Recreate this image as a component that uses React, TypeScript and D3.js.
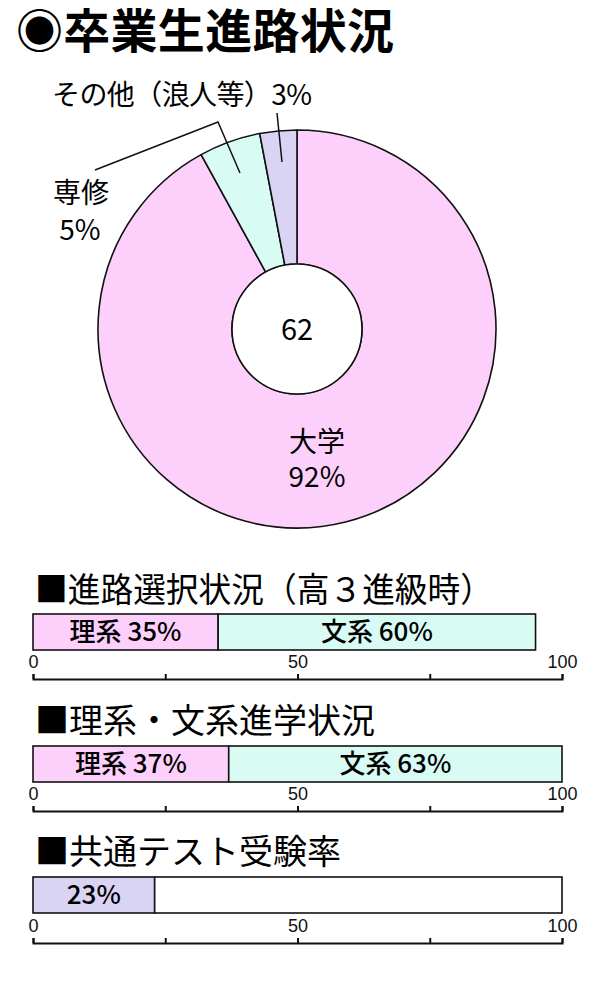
import React, { useEffect, useRef } from "react";
import * as d3 from "d3";

const FONT = "'Noto Sans CJK JP', 'Noto Sans', sans-serif";

const chartTitle = "◉卒業生進路状況";

// pie: graduate destinations
const pieLabels = ["大学", "専修", "その他（浪人等）"];
const pieValues = [92, 5, 3];
const pieColors = ["#fdd0fb", "#d8fbf4", "#d9d3f4"];
const totalCount = "62";

// bars
const barTitles = ["■進路選択状況（高３進級時）", "■理系・文系進学状況", "■共通テスト受験率"];
const barSegmentLabels: (string | null)[][] = [
  ["理系", "文系"],
  ["理系", "文系"],
  ["", null],
];
const barSegmentValues = [
  [35, 60],
  [37, 63],
  [23, 77],
];
const barSegmentColors = [
  ["#fdd0fb", "#d8fbf4"],
  ["#fdd0fb", "#d8fbf4"],
  ["#d9d3f4", "#ffffff"],
];
const axisTicks = [0, 25, 50, 75, 100];
const axisLabels = [0, 50, 100];

export default function App() {
  const ref = useRef<SVGSVGElement>(null);

  useEffect(() => {
    const svg = d3.select(ref.current);
    svg.selectAll("*").remove();

    svg
      .append("text")
      .attr("x", 16)
      .attr("y", 48)
      .attr("font-family", FONT)
      .attr("font-weight", 700)
      .attr("font-size", 47)
      .attr("textLength", 378)
      .attr("lengthAdjust", "spacing")
      .text(chartTitle);

    // ---- pie
    const cx = 297;
    const cy = 329;
    const arcs = d3.pie<number>().sort(null).value((d) => d)(pieValues);
    const arc = d3.arc<d3.PieArcDatum<number>>().innerRadius(65).outerRadius(199);
    const pg = svg.append("g").attr("transform", `translate(${cx},${cy})`);
    pg.selectAll("path")
      .data(arcs)
      .join("path")
      .attr("d", arc)
      .attr("fill", (_, i) => pieColors[i])
      .attr("stroke", "#111")
      .attr("stroke-width", 1.6)
      .attr("stroke-linejoin", "round");
    pg.append("circle")
      .attr("r", 65)
      .attr("fill", "#fff")
      .attr("stroke", "#111")
      .attr("stroke-width", 1.6);
    pg.append("text")
      .attr("text-anchor", "middle")
      .attr("y", 11)
      .attr("font-family", FONT)
      .attr("font-size", 29)
      .text(totalCount);

    // leader lines
    svg
      .append("polyline")
      .attr("points", "240,173 218,122 95,170")
      .attr("fill", "none")
      .attr("stroke", "#111")
      .attr("stroke-width", 1.5);
    svg
      .append("line")
      .attr("x1", 282)
      .attr("y1", 162)
      .attr("x2", 277)
      .attr("y2", 113)
      .attr("stroke", "#111")
      .attr("stroke-width", 1.5);

    const pieText = (x: number, y: number, t: string, anchor = "middle") =>
      svg
        .append("text")
        .attr("x", x)
        .attr("y", y)
        .attr("text-anchor", anchor)
        .attr("font-family", FONT)
        .attr("font-size", 28)
        .text(t);

    pieText(317, 452, pieLabels[0]);
    pieText(317, 487, `${pieValues[0]}%`);
    pieText(81, 203, pieLabels[1]);
    pieText(80, 240, `${pieValues[1]}%`);
    pieText(52, 105, `${pieLabels[2]}${pieValues[2]}%`, "start").attr("textLength", 260);

    // ---- bars
    const x = d3.scaleLinear().domain([0, 100]).range([33, 562]);
    const titleY = [602, 733, 864];
    const barY = [614, 746, 877];
    const axisY = [679, 811, 943];
    const barH = 36;

    barTitles.forEach((title, bi) => {
      const t = svg
        .append("text")
        .attr("x", 35)
        .attr("y", titleY[bi])
        .attr("font-family", FONT)
        .attr("font-size", 34)
        .text(title);
      if (bi === 0) t.attr("textLength", 458).attr("lengthAdjust", "spacingAndGlyphs");

      const vals = barSegmentValues[bi];
      const starts = vals.map((_, i) => d3.sum(vals.slice(0, i)));
      const bg = svg.append("g");
      vals.forEach((v, i) => {
        bg.append("rect")
          .attr("x", x(starts[i]))
          .attr("y", barY[bi])
          .attr("width", x(starts[i] + v) - x(starts[i]))
          .attr("height", barH)
          .attr("fill", barSegmentColors[bi][i])
          .attr("stroke", "#111")
          .attr("stroke-width", 1.6);
        const lab = barSegmentLabels[bi][i];
        if (lab !== null) {
          bg.append("text")
            .attr("x", (x(starts[i]) + x(starts[i] + v)) / 2)
            .attr("y", barY[bi] + barH / 2 + 9)
            .attr("text-anchor", "middle")
            .attr("font-family", FONT)
            .attr("font-weight", 500)
            .attr("font-size", 26)
            .text(lab ? `${lab} ${v}%` : `${v}%`);
        }
      });

      const ag = svg
        .append("g")
        .attr("transform", `translate(0,${axisY[bi]})`)
        .call(
          d3
            .axisTop(x)
            .tickValues(axisTicks)
            .tickSize(5)
            .tickSizeOuter(5)
            .tickPadding(6)
            .tickFormat((d) => (axisLabels.includes(+d) ? String(d) : ""))
        );
      ag.select(".domain").attr("stroke", "#111").attr("stroke-width", 2);
      ag.selectAll(".tick line").attr("stroke", "#111").attr("stroke-width", 2);
      ag.selectAll(".tick text")
        .attr("font-family", "'Liberation Sans', Arial, sans-serif")
        .attr("font-size", 18)
        .attr("fill", "#111");
    });
  }, []);

  return (
    <svg
      ref={ref}
      width={600}
      height={1000}
      style={{ position: "absolute", left: 0, top: 0, background: "#fff" }}
    />
  );
}
